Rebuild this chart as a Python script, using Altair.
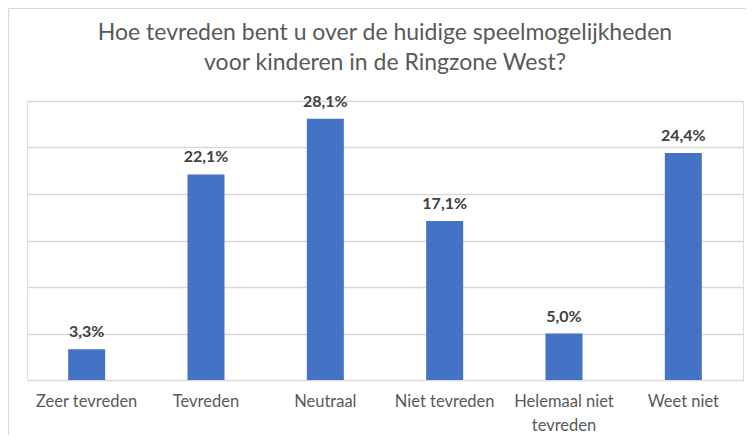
import altair as alt
import pandas as pd

categories = ["Zeer tevreden", "Tevreden", "Neutraal", "Niet tevreden", "Helemaal niet tevreden", "Weet niet"]
values = [3.3, 22.1, 28.1, 17.1, 5.0, 24.4]
value_labels = ["3,3%", "22,1%", "28,1%", "17,1%", "5,0%", "24,4%"]

df = pd.DataFrame({"cat": categories, "val": values, "lab": value_labels})

FONT = "Lato"
W, H = 716, 279

x_enc = alt.X(
    "cat:N", sort=categories, title=None,
    scale=alt.Scale(paddingInner=0.69, paddingOuter=0.345),
    axis=alt.Axis(
        labelAngle=0, domain=False, ticks=False, grid=False, labelPadding=13,
        labelFont=FONT, labelFontSize=16.5, labelColor="#595959",
        labelLineHeight=24, labelBaseline="top",
        labelExpr="datum.label == 'Helemaal niet tevreden' ? ['Helemaal niet', 'tevreden'] : datum.label",
    ),
)
y_enc = alt.Y(
    "val:Q", title=None,
    scale=alt.Scale(domain=[0, 30], nice=False),
    axis=alt.Axis(values=[0, 5, 10, 15, 20, 25, 30], labels=False, ticks=False, domain=False,
                  grid=True, gridColor="#D9D9D9", gridWidth=1.3),
)

bars = alt.Chart(df).mark_bar(color="#4472C4").encode(x=x_enc, y=y_enc)
texts = alt.Chart(df).mark_text(
    font=FONT, fontSize=16, fontWeight="bold", color="#404040", baseline="alphabetic", dy=-12
).encode(x=alt.X("cat:N", sort=categories), y="val:Q", text="lab:N")

border = alt.Chart(alt.Data(values=[{}])).mark_rule(color="#D9D9D9", strokeWidth=1.2)
left_line = border.encode(x=alt.value(-18.5), y=alt.value(-92.5), y2=alt.value(H + 60))
top_line = border.encode(y=alt.value(-92.5), x=alt.value(-18.5), x2=alt.value(W + 3))

chart = alt.layer(left_line, top_line, bars, texts).properties(
    width=W, height=H,
    title=alt.TitleParams(
        text=["Hoe tevreden bent u over de huidige speelmogelijkheden", "voor kinderen in de Ringzone West?"],
        font=FONT, fontSize=23, fontWeight="normal", color="#595959",
        lineHeight=30, anchor="middle", frame="group", offset=-67,
    ),
    autosize=alt.AutoSizeParams(type="none"),
    padding={"left": 19, "top": 93, "right": 3, "bottom": 55},
).configure_view(stroke=None, strokeWidth=0).configure(background="white")

chart.save("out.html", embed_options={"renderer": "svg", "actions": False})
